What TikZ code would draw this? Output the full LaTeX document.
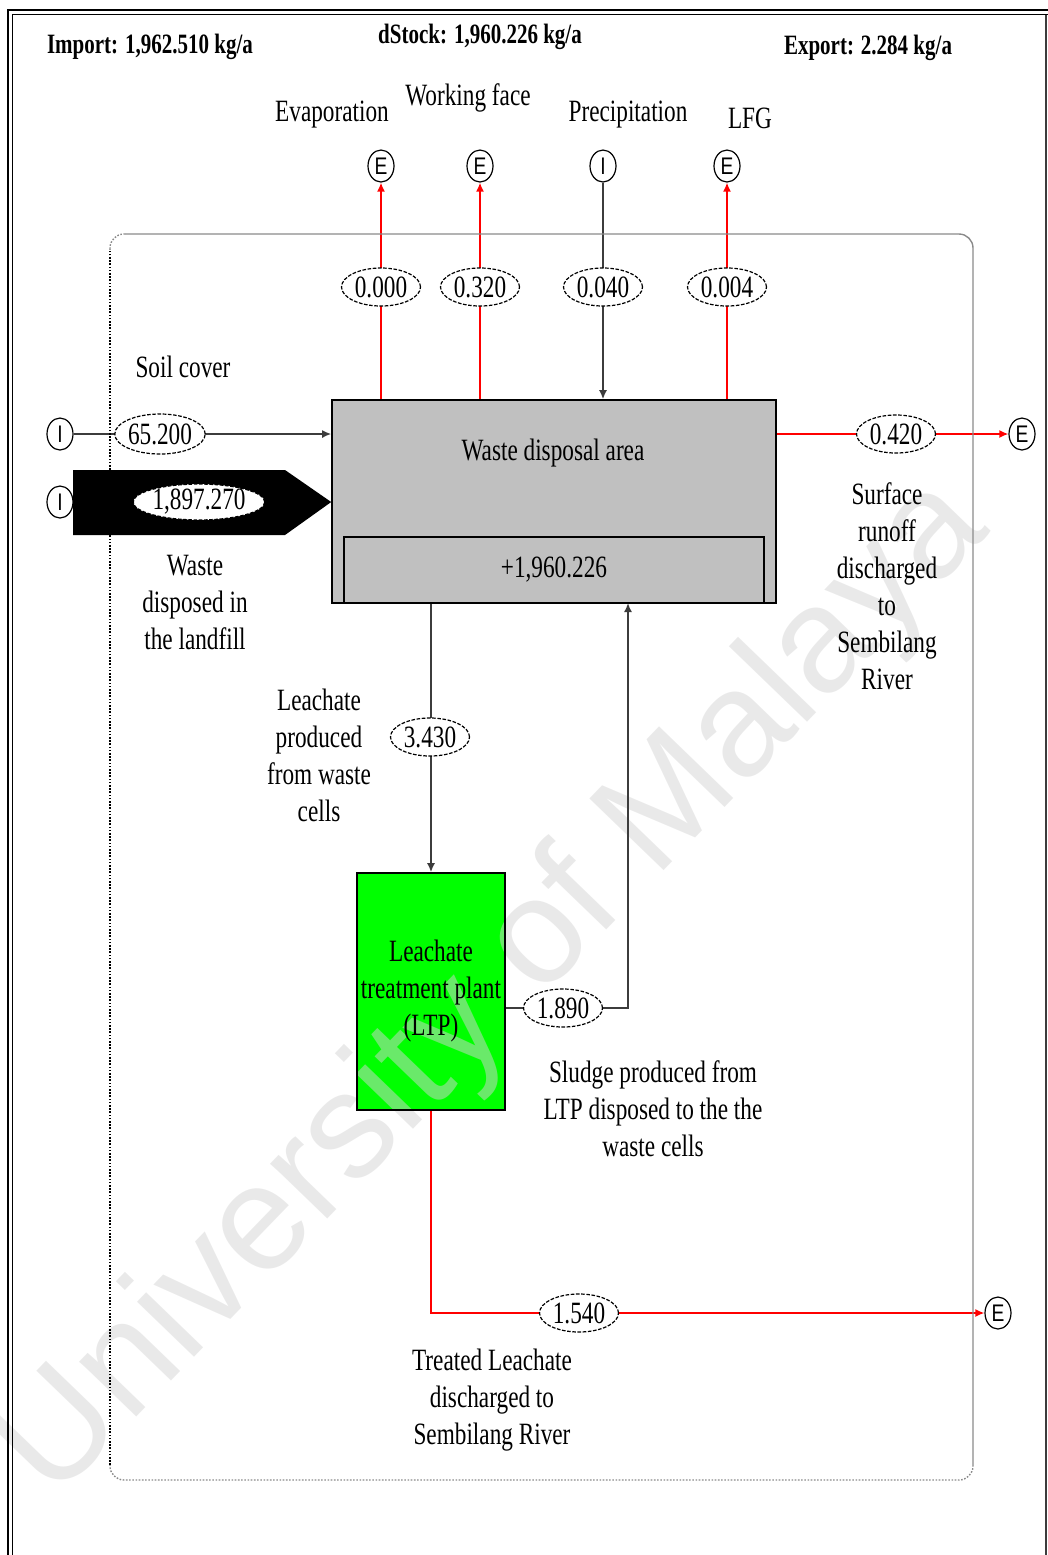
\documentclass[tikz,border=0pt]{standalone}
\usepackage{fontspec}
\setmainfont[FakeStretch=0.75]{Liberation Serif}
\setsansfont[FakeStretch=0.8]{Liberation Sans}
\newfontfamily\wmfont{Liberation Sans}
\usetikzlibrary{arrows.meta,shapes.geometric,calc}
\pgfdeclarelayer{fills}
\pgfdeclarelayer{wmark}
\pgfdeclarelayer{lines}
\pgfsetlayers{fills,wmark,lines,main}
\definecolor{boxgray}{HTML}{C0C0C0}
\definecolor{ltpgreen}{HTML}{00FF00}
\definecolor{flowred}{HTML}{FF0000}
\definecolor{lineg}{HTML}{3C3C3C}
\definecolor{bndgray}{HTML}{8A8A8A}
\tikzset{
  txt/.style={font=\fontsize{15.5}{18.5}\selectfont, align=center, inner sep=0pt},
  hdr/.style={font=\bfseries\fontsize{14}{16}\selectfont, inner sep=0pt},
  port/.style={ellipse, draw, line width=0.6pt, fill=white, inner sep=0pt,
    minimum width=13pt, minimum height=16pt, font=\sffamily\fontsize{12}{12}\selectfont},
  fval/.style={ellipse, draw, line width=0.6pt, dash pattern=on 1.8pt off 0.8pt,
    fill=white, inner sep=0pt, minimum width=39.5pt, minimum height=19pt,
    font=\fontsize{15.5}{15.5}\selectfont},
  rflow/.style={draw=flowred, line width=0.8pt, -{Latex[length=4.5pt,width=4pt]}},
  kflow/.style={draw=lineg, line width=0.8pt, -{Latex[length=4.5pt,width=4pt]}},
  procbox/.style={draw, line width=0.8pt, inner sep=0pt},
  bsolid/.style={draw=bndgray, line width=0.7pt},
  bdot/.style={line width=0.7pt, dash pattern=on 0.8pt off 0.8pt},
}
\begin{document}
\begin{tikzpicture}[x=0.5pt,y=-0.5pt]
\useasboundingbox (0,0) rectangle (1048,1555);

% page frame
\draw[line width=1.2pt] (8,1555) -- (8,10) -- (1048,10);
\draw[line width=0.8pt] (12.5,1555) -- (12.5,14.5) -- (1048,14.5);
\draw[draw=lineg, line width=0.8pt] (1046,14.5) -- (1046,1555);

% system boundary
\draw[bsolid, rounded corners=7pt] (125,234) -- (973,234) -- (973,1465);
\draw[bdot, draw=bndgray, rounded corners=7pt] (973,1465) -- (973,1480) -- (110,1480) -- (110,1465);
\draw[bdot, draw=black] (110,1465) -- (110,249);
\draw[bdot, draw=bndgray, rounded corners=7pt] (110,249) -- (110,234) -- (125,234);

% headers
\node[hdr] (imp) at (150,47) {Import: 1,962.510 kg/a};
\node[hdr] (dst) at (480,37) {dStock: 1,960.226 kg/a};
\node[hdr] (exp) at (868,48) {Export: 2.284 kg/a};

% top labels
\node[txt] (lEvap) at (332,115) {Evaporation};
\node[txt] (lWork) at (468,98) {Working face};
\node[txt] (lPrec) at (628,115) {Precipitation};
\node[txt] (lLfg) at (750,118) {LFG};

% ports
\node[port] (eEvap) at (381,166) {E};
\node[port] (eWork) at (480,166) {E};
\node[port] (iPrec) at (603,166) {I};
\node[port] (eLfg) at (727,166) {E};
\node[port] (iSoil) at (60,434) {I};
\node[port] (iWaste) at (60,502) {I};
\node[port] (eRun) at (1022,434) {E};
\node[port] (eTreat) at (998,1313) {E};

% processes
\node[procbox, minimum width=222pt, minimum height=101.5pt] (wda) at (554,501.5) {};
\node[txt] (wdaT) at (553,453) {Waste disposal area};
\node[procbox, txt, minimum width=210pt, minimum height=33pt] (stock) at (554,570) {+1,960.226};
\node[procbox, txt, minimum width=74pt, minimum height=118.5pt] (ltp) at (431,991.5) {Leachate\\treatment plant\\(LTP)};
\coordinate (sludgeIn) at (628,603);

\begin{pgfonlayer}{fills}
  \fill[boxgray] (wda.south west) rectangle (wda.north east);
  \fill[ltpgreen] (ltp.south west) rectangle (ltp.north east);
\end{pgfonlayer}

% flow values
\node[fval] (v000) at (381,287) {0.000};
\node[fval] (v320) at (480,287) {0.320};
\node[fval] (v040) at (603,287) {0.040};
\node[fval] (v004) at (727,287) {0.004};
\node[fval, minimum width=45pt, minimum height=20pt] (v652) at (160,434) {65.200};
\node[fval] (v420) at (896,434) {0.420};
\node[fval] (v3430) at (430,737) {3.430};
\node[fval] (v1890) at (563,1008) {1.890};
\node[fval] (v1540) at (579,1313) {1.540};

% connectors
\begin{pgfonlayer}{lines}
  \draw[rflow] (wda.north -| eEvap) -- (eEvap);
  \draw[rflow] (wda.north -| eWork) -- (eWork);
  \draw[kflow] (iPrec) -- (wda.north -| iPrec);
  \draw[rflow] (wda.north -| eLfg) -- (eLfg);
  \draw[kflow] (iSoil) -- (wda.west |- iSoil);
  \draw[rflow] (wda.east |- eRun) -- (eRun);
  \draw[kflow] (wda.south -| ltp.north) -- (ltp.north);
  \draw[kflow] (ltp.east |- v1890) -| (sludgeIn);
  \draw[rflow] (ltp.south) |- (eTreat);
\end{pgfonlayer}

% big waste arrow
\fill[black] (73,470) -- (285,470) -- (wda.west |- iWaste) -- (285,535) -- (73,535) -- cycle;
\node[fval, minimum width=59pt, minimum height=17pt] (v1897) at (199,502) {1,897.270};

% labels
\node[txt] (lSoil) at (183,367) {Soil cover};
\node[txt] (lWaste) at (195,602) {Waste\\disposed in\\the landfill};
\node[txt] (lLeach) at (319,755) {Leachate\\produced\\from waste\\cells};
\node[txt] (lRun) at (887,586) {Surface\\runoff\\discharged\\to\\Sembilang\\River};
\node[txt] (lSludge) at (653,1109) {Sludge produced from\\LTP disposed to the the\\waste cells};
\node[txt] (lTreat) at (492,1400) {Treated Leachate\\discharged to\\Sembilang River};

% watermark
\begin{pgfonlayer}{wmark}
  \node[rotate=46, text=black!17, text opacity=0.5, inner sep=0pt,
        font=\wmfont\fontsize{75}{75}\selectfont] (wm) at (495,990) {University of Malaya};
\end{pgfonlayer}
\end{tikzpicture}
\end{document}
